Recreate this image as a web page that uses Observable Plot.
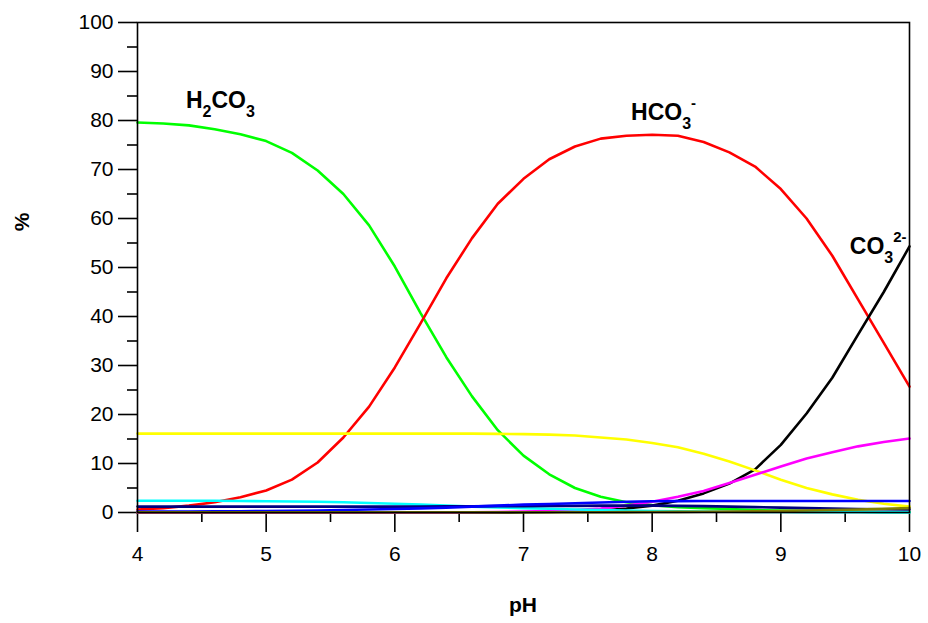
<!DOCTYPE html>
<html>
<head>
<meta charset="utf-8">
<script src="https://cdn.jsdelivr.net/npm/d3@7"></script>
<script src="https://cdn.jsdelivr.net/npm/@observablehq/plot@0.6"></script>
<style>
  html, body { margin: 0; padding: 0; background: white; }
  #chart svg { display: block; }
</style>
</head>
<body>
<div id="chart"></div>
<script>
// ---- data ----
const pH = [4.0,4.2,4.4,4.6,4.8,5.0,5.2,5.4,5.6,5.8,6.0,6.2,6.4,6.6,6.8,7.0,7.2,7.4,7.6,7.8,8.0,8.2,8.4,8.6,8.8,9.0,9.2,9.4,9.6,9.8,10.0];

const H2CO3 = [79.6,79.4,79.0,78.2,77.2,75.8,73.4,69.8,65.0,58.6,50.2,40.7,31.7,23.7,16.8,11.6,7.8,5.0,3.2,2.1,1.5,1.1,0.9,0.7,0.5,0.4,0.3,0.2,0.15,0.1,0.1];
const HCO3 = [0.6,0.9,1.4,2.1,3.1,4.5,6.7,10.2,15.3,21.6,29.6,38.6,47.8,56.0,63.0,68.1,72.1,74.7,76.3,76.9,77.1,76.9,75.6,73.5,70.6,66.0,60.0,52.4,43.5,34.6,25.7];
const CO3 = [0,0,0,0,0,0,0,0,0,0,0,0,0,0,0,0.05,0.1,0.2,0.4,0.8,1.4,2.4,3.9,5.9,8.8,13.8,20.2,27.5,36.3,45.0,54.3];
const yellowS = [16.1,16.1,16.1,16.1,16.1,16.1,16.1,16.1,16.1,16.1,16.1,16.1,16.1,16.1,16.05,16.0,15.9,15.7,15.3,14.9,14.2,13.3,12.0,10.4,8.6,6.7,5.0,3.7,2.6,1.8,1.2];
const magentaS = [0,0,0,0,0,0,0,0,0,0,0,0,0.02,0.05,0.1,0.2,0.3,0.5,0.8,1.4,2.2,3.2,4.4,6.0,7.7,9.4,11.0,12.3,13.5,14.4,15.1];
const cyanS = [2.4,2.4,2.4,2.4,2.35,2.3,2.25,2.2,2.1,1.95,1.8,1.6,1.4,1.2,1.05,0.9,0.75,0.6,0.5,0.4,0.3,0.25,0.2,0.15,0.12,0.1,0.08,0.06,0.05,0.03,0.02];
const navyS = [1.2,1.2,1.2,1.2,1.2,1.2,1.2,1.2,1.2,1.2,1.2,1.2,1.25,1.25,1.3,1.3,1.35,1.35,1.4,1.4,1.4,1.35,1.3,1.2,1.1,1.0,0.9,0.8,0.7,0.65,0.6];
const blueS = [0.2,0.2,0.2,0.22,0.25,0.3,0.35,0.4,0.5,0.6,0.7,0.85,1.0,1.2,1.4,1.6,1.75,1.9,2.05,2.2,2.3,2.33,2.35,2.35,2.35,2.35,2.35,2.35,2.35,2.35,2.35];
const oliveS = [0.05,0.05,0.05,0.05,0.05,0.05,0.05,0.05,0.05,0.05,0.05,0.05,0.05,0.05,0.05,0.05,0.05,0.05,0.06,0.08,0.1,0.12,0.15,0.2,0.25,0.32,0.4,0.5,0.6,0.75,0.9];

const seriesNames  = ["H2CO3","HCO3","CO3","yellow","magenta","cyan","navy","blue","olive"];
const seriesValues = [H2CO3, HCO3, CO3, yellowS, magentaS, cyanS, navyS, blueS, oliveS];
const seriesColors = ["#00ff00","#ff0000","#000000","#ffff00","#ff00ff","#00ffff","#000080","#0000ff","#808000"];

const xMajorTicks = [4,5,6,7,8,9,10];
const xMinorTicks = [4.5,5.5,6.5,7.5,8.5,9.5];
const yMajorTicks = [0,10,20,30,40,50,60,70,80,90,100];
const yMinorTicks = [5,15,25,35,45,55,65,75,85,95];

// species labels: parts [text, kind] at data coordinates (start x, baseline y)
const labels = [
  {parts: [["H",""],["2","sub"],["CO",""],["3","sub"]], x: 4.38, y: 82.4},
  {parts: [["HCO",""],["3","sub"],["-","sup"]], x: 7.84, y: 80.1},
  {parts: [["CO",""],["3","sub"],["2-","sup"]], x: 9.54, y: 52.6}
];

// ---- build table ----
const rows = [];
seriesNames.forEach((s, i) => {
  pH.forEach((p, j) => rows.push({series: s, pH: p, value: seriesValues[i][j]}));
});

const lineMarks = seriesNames.map((s, i) =>
  Plot.line(rows.filter(d => d.series === s), {
    x: "pH", y: "value", stroke: seriesColors[i], strokeWidth: 2.6, curve: "linear"
  })
);

const plot = Plot.plot({
  width: 928,
  height: 623,
  marginLeft: 137,
  marginRight: 19,
  marginTop: 22,
  marginBottom: 111,
  x: {domain: [4, 10]},
  y: {domain: [0, 100]},
  style: {fontFamily: "'Liberation Sans', Arial, sans-serif", fontSize: "21px", color: "black", background: "white"},
  marks: [
    Plot.axisY({ticks: yMajorTicks, tickSize: 19, tickPadding: 5, label: null, fontSize: 21, strokeWidth: 1.6, stroke: "black"}),
    Plot.axisY({ticks: yMinorTicks, tickSize: 10, text: null, label: null, strokeWidth: 1.6, stroke: "black"}),
    Plot.axisX({ticks: xMajorTicks, tickSize: 20, tickPadding: 14, label: null, fontSize: 21, strokeWidth: 1.6, stroke: "black", tickFormat: d => String(d)}),
    Plot.axisX({ticks: xMinorTicks, tickSize: 10, text: null, label: null, strokeWidth: 1.6, stroke: "black"}),
    ...lineMarks,
    Plot.frame({stroke: "black", strokeWidth: 1.6})
  ]
});

const sx = plot.scale("x"), sy = plot.scale("y");
const svg = d3.select(plot);
const g = svg.append("g")
  .attr("font-family", "'Liberation Sans', Arial, sans-serif")
  .attr("font-weight", "bold")
  .attr("fill", "black");

labels.forEach(l => {
  const t = g.append("text")
    .attr("x", sx.apply(l.x))
    .attr("y", sy.apply(l.y))
    .attr("text-anchor", "start")
    .attr("font-size", 23);
  let shift = 0;
  l.parts.forEach(([txt, kind]) => {
    let target = 0, size = 23;
    if (kind === "sub") { target = 9; size = 16; }
    else if (kind === "sup") { target = -12; size = 15; }
    t.append("tspan")
      .attr("dy", target - shift)
      .attr("font-size", size)
      .text(txt);
    shift = target;
  });
});

// axis titles
g.append("text")
  .attr("transform", "translate(29,222) rotate(-90)")
  .attr("text-anchor", "middle")
  .attr("font-size", 21)
  .text("%");
g.append("text")
  .attr("x", 523)
  .attr("y", 612)
  .attr("text-anchor", "middle")
  .attr("font-size", 21)
  .text("pH");

document.getElementById("chart").appendChild(plot);
</script>
</body>
</html>
